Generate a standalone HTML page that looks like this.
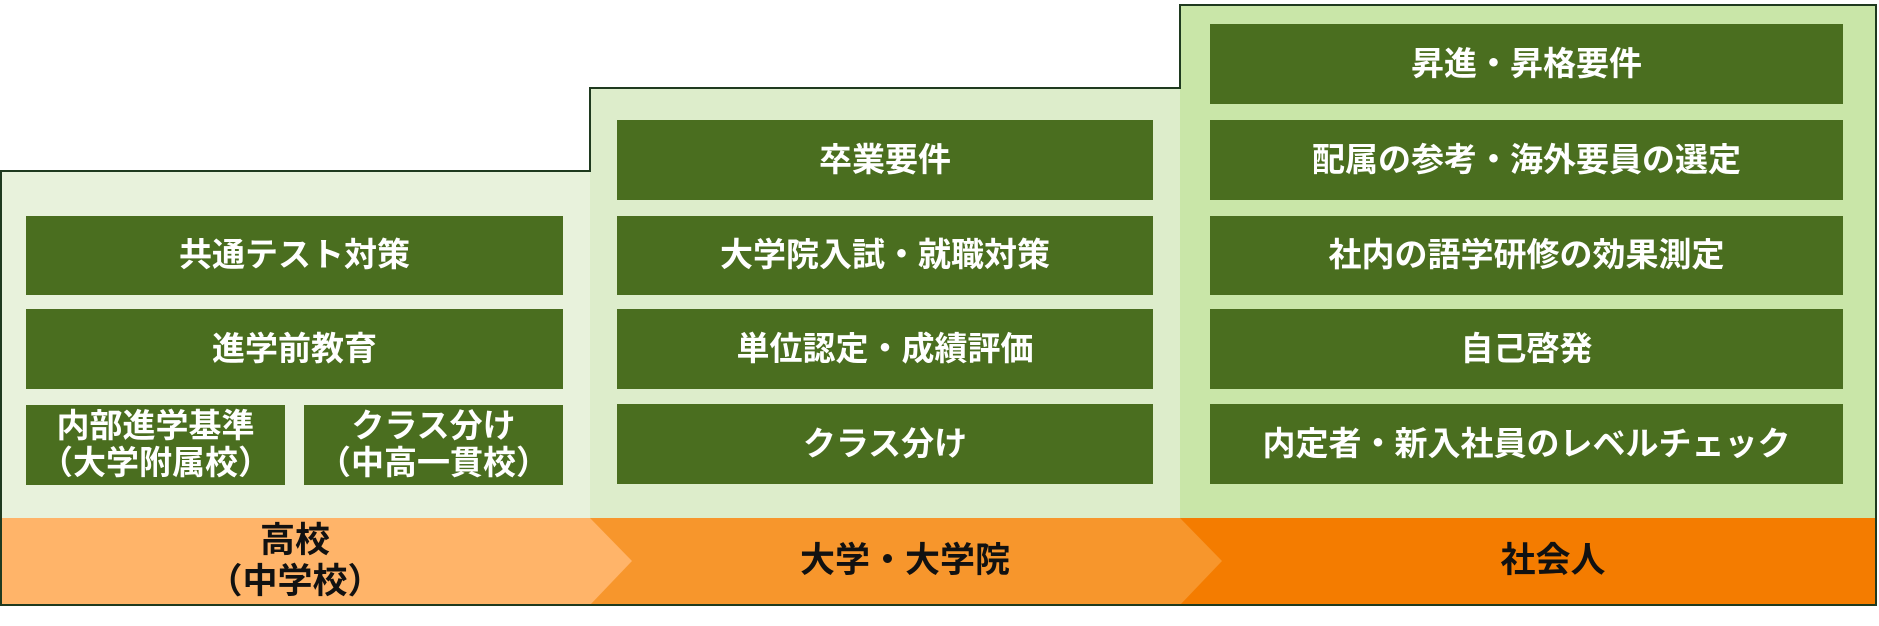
<!DOCTYPE html>
<html><head><meta charset="utf-8"><style>
body{margin:0;width:1879px;height:626px;background:#fff;overflow:hidden;position:relative;font-family:"Liberation Sans","Noto Sans CJK JP",sans-serif;}
svg{position:absolute;left:0;top:0}
.b{position:absolute;background:#4A6E1F;color:#fff;font-weight:bold;font-size:33px;display:flex;align-items:center;justify-content:center;text-align:center;line-height:1.12;white-space:nowrap}
.l{position:absolute;color:#111;font-weight:bold;font-size:35px;display:flex;align-items:center;justify-content:center;text-align:center;line-height:1.15}
</style></head><body>
<svg width="1879" height="626">
<rect x="1" y="171" width="589" height="434" fill="#E8F2DC"/>
<rect x="590" y="88" width="590" height="517" fill="#DDEDCB"/>
<rect x="1180" y="5" width="696" height="600" fill="#C9E6A8"/>
<rect x="1180" y="518" width="696" height="87" fill="#F47C00"/>
<polygon points="590,518 1180,518 1222,561 1180,605 590,605" fill="#F7962C"/>
<polygon points="1,518 590,518 632,561 590,605 1,605" fill="#FFB469"/>
<polygon points="1,171 590,171 590,88 1180,88 1180,5 1876,5 1876,605 1,605" fill="none" stroke="#1F3A1F" stroke-width="2"/>
</svg>
<div class="b" style="left:26px;top:216px;width:537px;height:79px">共通テスト対策</div>
<div class="b" style="left:26px;top:309px;width:537px;height:80px">進学前教育</div>
<div class="b" style="left:26px;top:405px;width:259px;height:80px">内部進学基準<br>（大学附属校）</div>
<div class="b" style="left:304px;top:405px;width:259px;height:80px">クラス分け<br>（中高一貫校）</div>
<div class="b" style="left:617px;top:120px;width:536px;height:80px">卒業要件</div>
<div class="b" style="left:617px;top:216px;width:536px;height:79px">大学院入試・就職対策</div>
<div class="b" style="left:617px;top:309px;width:536px;height:80px">単位認定・成績評価</div>
<div class="b" style="left:617px;top:404px;width:536px;height:80px">クラス分け</div>
<div class="b" style="left:1210px;top:24px;width:633px;height:80px">昇進・昇格要件</div>
<div class="b" style="left:1210px;top:120px;width:633px;height:80px">配属の参考・海外要員の選定</div>
<div class="b" style="left:1210px;top:216px;width:633px;height:79px">社内の語学研修の効果測定</div>
<div class="b" style="left:1210px;top:309px;width:633px;height:80px">自己啓発</div>
<div class="b" style="left:1210px;top:404px;width:633px;height:80px">内定者・新入社員のレベルチェック</div>
<div class="l" style="left:0;top:518px;width:590px;height:87px">高校<br>（中学校）</div>
<div class="l" style="left:615px;top:518px;width:580px;height:87px">大学・大学院</div>
<div class="l" style="left:1215px;top:518px;width:676px;height:87px">社会人</div>
</body></html>
